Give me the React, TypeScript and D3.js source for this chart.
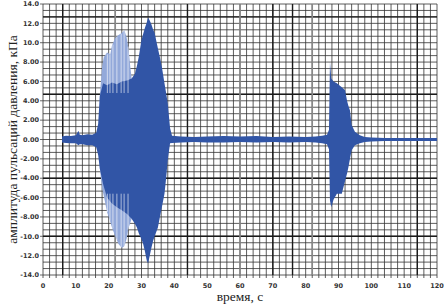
import React from 'react';
import * as d3 from 'd3';

const envTime = [5.8, 7, 8.5, 10, 10.8, 11.2, 12, 13.5, 15, 16.2, 16.8, 17.3, 18.3, 19.5, 21, 22.5, 24, 25.6, 27, 28, 28.6, 29.2, 30, 30.5, 31, 31.6, 32, 32.5, 33, 33.5, 34, 35, 35.6, 36.2, 37, 37.5, 38, 38.7, 39.3, 42, 46, 50, 55, 60, 65, 70, 75, 80, 83, 85, 86.5, 87.1, 87.4, 87.8, 88.5, 89.5, 91, 92, 92.6, 93, 93.5, 94, 95, 96.5, 98, 100, 104, 108, 112, 116, 120];
const envTop = [0.3, 0.4, 0.35, 0.45, 0.9, 0.5, 0.45, 0.55, 0.5, 0.7, 1.6, 4.5, 5.8, 5.6, 5.9, 5.7, 6.0, 6.1, 6.3, 6.8, 7.6, 8.6, 10.3, 10.9, 11.5, 12.1, 12.6, 12.3, 11.9, 11.4, 11.0, 9.4, 8.5, 7.5, 5.8, 4.8, 3.7, 1.2, 0.4, 0.3, 0.25, 0.3, 0.35, 0.3, 0.35, 0.25, 0.3, 0.25, 0.3, 0.4, 0.5, 1.0, 8.0, 6.3, 6.0, 5.8, 5.4, 5.1, 4.0, 3.5, 3.0, 1.5, 0.8, 0.45, 0.25, 0.2, 0.15, 0.15, 0.15, 0.15, 0.15];
const envBottom = [-0.3, -0.35, -0.4, -0.4, -0.6, -0.5, -0.5, -0.6, -0.6, -0.8, -1.6, -3.0, -4.6, -6.0, -6.6, -7.0, -7.3, -7.7, -8.2, -8.7, -9.1, -9.7, -10.3, -10.8, -11.5, -12.5, -12.8, -12.0, -11.2, -10.5, -10.0, -9.1, -8.0, -7.0, -5.6, -4.0, -2.1, -0.4, -0.35, -0.3, -0.25, -0.3, -0.3, -0.25, -0.3, -0.25, -0.3, -0.25, -0.3, -0.4, -0.5, -1.0, -6.3, -7.0, -6.2, -5.6, -5.6, -4.3, -3.5, -2.9, -2.0, -1.1, -0.6, -0.4, -0.25, -0.2, -0.15, -0.15, -0.15, -0.15, -0.15];

// lighter (overlapped) part of the first burst
const lightTime = [17.3, 18, 18.5, 19.5, 20.5, 21, 22, 23, 24, 24.8, 25.5, 26, 26.6, 27];
const lightTop = [4.5, 7.5, 8.5, 9.0, 8.8, 9.7, 10.5, 10.8, 11.0, 11.3, 10.5, 9.5, 7.5, 6.3];
const lightBottom = [-3.0, -5.0, -5.8, -7.5, -8.5, -9.1, -10.0, -10.8, -11.2, -11.0, -10.2, -9.2, -8.6, -8.2];

// white gaps between pulses in the light part
const streakTime = [19.6, 20.4, 21.3, 22.5, 23.8, 24.7, 25.9];
const streakTop = [8.8, 8.8, 9.8, 10.6, 10.9, 11.2, 9.6];
const streakBottom = [-7.5, -8.4, -9.2, -10.4, -11.1, -11.0, -9.3];

const xTicks = [0, 10, 20, 30, 40, 50, 60, 70, 80, 90, 100, 110, 120];
const yTicks = [14, 12, 10, 8, 6, 4, 2, 0, -2, -4, -6, -8, -10, -12, -14];
const yTickLabels = ['14.0', '12.0', '10.0', '8.00', '6.00', '4.00', '2.00', '0.00', '-2.00', '-4.00', '-6.00', '-8.00', '-10.0', '-12.0', '-14.0'];
const heavyV = [6, 44, 70, 76, 114];
const greyV = [22, 60, 82];
const heavyH = [12.67, 4.67, -4, -10];

const W = 444;
const H = 304;
const dark = '#3155a6';
const light = '#93a9da';

const App: React.FC = () => {
  const x = d3.scaleLinear().domain([0, 120]).range([43, 437]);
  const y = d3.scaleLinear().domain([-14, 14]).range([275, 4]);

  const minorV = d3.range(0, 121, 2);
  const minorH = d3.range(0, 43).map(i => -14 + (i * 2) / 3);

  const env = envTime.map((t, i) => ({ t, hi: envTop[i], lo: envBottom[i] }));
  const lightPts = lightTime.map((t, i) => ({ t, hi: lightTop[i], lo: lightBottom[i] }));

  const area = d3.area<{ t: number; hi: number; lo: number }>()
    .x(d => x(d.t))
    .y0(d => y(d.lo))
    .y1(d => y(d.hi));

  const serif = '"Liberation Serif", "Times New Roman", serif';
  const sans = '"DejaVu Sans", Verdana, sans-serif';

  return (
    <svg width={W} height={H} style={{ position: 'absolute', left: 0, top: 0, background: '#fff' }}>
      {/* grid */}
      <g>
        {minorH.map((v, i) => (
          <line key={'h' + i} x1={x(0)} x2={x(120)} y1={y(v)} y2={y(v)} stroke="#333" strokeWidth={0.8} />
        ))}
        {minorV.map(t => (
          <line key={'v' + t} x1={x(t)} x2={x(t)} y1={y(14)} y2={y(-14) + 3} stroke="#333" strokeWidth={0.8} />
        ))}
        {heavyH.map(v => (
          <line key={'hh' + v} x1={x(0)} x2={x(120)} y1={y(v)} y2={y(v)} stroke="#1a1a1a" strokeWidth={1.4} />
        ))}
        {heavyV.map(t => (
          <line key={'hv' + t} x1={x(t)} x2={x(t)} y1={y(14)} y2={y(-14)} stroke="#1a1a1a" strokeWidth={1.4} />
        ))}
        {greyV.map(t => (
          <line key={'gv' + t} x1={x(t)} x2={x(t)} y1={y(14)} y2={y(-14)} stroke="#888" strokeWidth={1.6} />
        ))}
      </g>

      {/* signal */}
      <path d={area(lightPts) || ''} fill={light} />
      <path d={area(env) || ''} fill={dark} />
      {streakTime.map((t, i) => (
        <g key={'s' + i}>
          <line x1={x(t)} x2={x(t)} y1={y(streakTop[i])} y2={y(4.8)} stroke="#fff" strokeOpacity={0.75} strokeWidth={0.8} />
          <line x1={x(t)} x2={x(t)} y1={y(-5.6)} y2={y(streakBottom[i])} stroke="#fff" strokeOpacity={0.75} strokeWidth={0.8} />
        </g>
      ))}

      {/* axes */}
      <g fontFamily={sans} fontSize={6.5} fill="#333" fontWeight="bold">
        {yTicks.map((v, i) => (
          <g key={'yt' + v}>
            <line x1={x(0) - 3} x2={x(0)} y1={y(v)} y2={y(v)} stroke="#444" strokeWidth={0.8} />
            <text x={x(0) - 4} y={y(v)} dy="0.35em" textAnchor="end">{yTickLabels[i]}</text>
          </g>
        ))}
        {xTicks.map(t => (
          <text key={'xt' + t} x={x(t)} y={288} textAnchor="middle">{t}</text>
        ))}
      </g>

      <text
        transform={`translate(12,${(y(14) + y(-14)) / 2}) rotate(-90)`}
        textAnchor="middle"
        dy="0.35em"
        fontFamily={serif}
        fontSize={13.5}
        fill="#222"
      >
        амплитуда пульсаций давления, кПа
      </text>
      <text x={240} y={301} textAnchor="middle" fontFamily={serif} fontSize={13.5} fill="#222">
        время, с
      </text>
    </svg>
  );
};

export default App;
